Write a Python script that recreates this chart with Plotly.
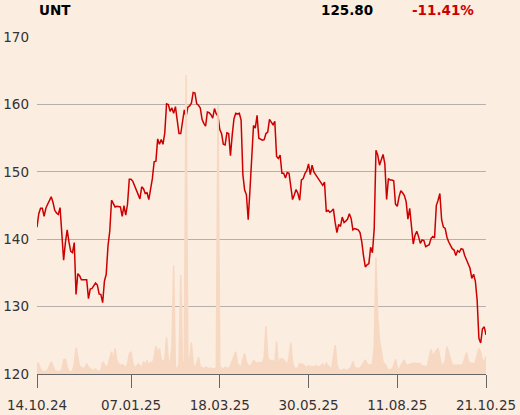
import plotly.graph_objects as go

ticker = "UNT"
last_price = "125.80"
change = "-11.41%"

tick_idx = [0, 53, 103, 153, 203, 253]
tick_labels = ["14.10.24", "07.01.25", "18.03.25", "30.05.25", "11.08.25", "21.10.25"]
y_ticks = [120, 130, 140, 150, 160, 170]

price = [
    141.8, 143.8, 144.6, 144.6, 143.4, 144.6, 145.2, 145.8, 146.3, 145.5,
    144.3, 143.9, 143.7, 144.7, 140.5, 136.9, 139.5, 141.4, 139.6, 138.2,
    138.0, 139.5, 131.8, 134.9, 134.6, 134.0, 134.0, 134.0, 134.0, 131.2,
    132.6, 132.7, 133.1, 133.5, 133.2, 131.9, 131.8, 130.6, 133.8, 134.8,
    139.0, 141.2, 145.8, 145.2, 144.8, 144.9, 144.9, 144.8, 143.4, 145.0,
    143.6, 145.2, 148.9, 148.9, 148.6, 148.0, 147.3, 146.6, 146.0, 147.8,
    147.5, 146.8, 146.9, 145.9, 147.6, 149.0, 151.5, 151.6, 154.9, 154.1,
    154.8, 154.1, 155.8, 160.1, 160.0, 159.0, 159.5, 158.7, 159.7, 157.6,
    155.7, 155.7, 157.6, 159.2, 158.2, 159.6, 159.8, 160.2, 161.8, 161.7,
    160.1, 159.9, 159.5, 157.8, 157.2, 156.8, 158.9, 158.8, 158.5, 158.0,
    159.4, 158.6, 158.3, 156.3, 155.7, 154.1, 154.0, 155.8, 155.7, 152.4,
    155.5, 157.9, 158.7, 158.6, 158.7, 157.7, 149.6, 147.3, 146.6, 142.9,
    147.3, 151.3, 156.9, 156.5, 158.4, 155.0, 154.8, 154.7, 154.8, 155.7,
    155.9, 157.8, 157.4, 157.0, 157.5, 152.3, 152.0, 152.5, 149.8, 149.8,
    149.1, 149.9, 149.8, 147.8, 145.9, 146.6, 147.4, 146.8, 145.8, 148.8,
    149.0, 149.8, 150.2, 151.2, 149.6, 151.0, 150.0, 149.6, 149.2, 148.8,
    148.6, 148.0, 148.5, 144.1, 144.3, 144.0, 144.2, 144.5, 142.5, 141.0,
    142.2, 141.9, 143.3, 142.5, 142.7, 143.0, 143.8, 143.1, 141.4, 141.6,
    141.5, 141.4, 141.0, 139.6, 137.5, 135.9, 136.2, 136.4, 138.8, 138.0,
    141.5, 153.2, 152.5, 151.0, 151.8, 152.6, 151.2, 145.9, 149.0, 148.8,
    148.8, 148.7, 145.2, 144.9, 146.3, 147.2, 146.9, 146.5, 145.6, 143.0,
    144.6, 141.6, 139.3, 140.6, 141.2, 140.4, 139.4, 139.9, 139.8, 138.9,
    139.0, 139.2, 140.1, 140.4, 140.2, 145.0, 145.8, 146.8, 142.9, 141.8,
    141.6, 140.3, 139.6, 139.1, 138.6, 138.4, 137.6, 138.3, 138.1, 138.6,
    138.5, 137.6, 137.0, 136.5, 135.7, 134.2, 134.8, 133.8, 131.0, 125.3,
    124.6, 126.7, 127.0, 125.8,
]

volume = [
    3.4, 3.0, 1.5, 0.8, 0.7, 0.8, 1.2, 2.5, 3.6, 2.5,
    1.0, 0.8, 0.7, 0.9, 1.2, 4.2, 4.4, 2.0, 0.8, 0.7,
    0.8, 3.0, 7.8, 5.0, 2.2, 2.0, 1.5, 2.0, 3.0, 2.0,
    1.5, 1.2, 1.0, 1.5, 0.8, 0.8, 1.0, 3.7, 3.0, 2.0,
    2.5, 5.0, 6.6, 4.0, 7.6, 4.0, 3.0, 2.5, 2.8, 2.4,
    1.8, 3.0, 6.0, 6.6, 3.0, 2.0, 2.2, 3.0, 2.5, 2.0,
    3.5, 3.0, 4.0, 2.5, 3.5, 3.0, 5.0, 8.3, 6.0, 7.6,
    4.0, 4.0, 4.0, 10.9, 4.0, 3.0, 8.0, 32.3, 2.0, 1.5,
    3.0, 29.4, 2.0, 4.0, 88.7, 5.0, 4.0, 9.3, 3.0, 2.0,
    3.0, 5.0, 2.0, 2.0, 1.5, 2.0, 1.8, 1.5, 1.8, 1.5,
    1.5, 1.8, 79.8, 2.0, 1.8, 1.5, 2.0, 1.8, 1.5, 2.5,
    3.7, 5.0, 6.6, 3.0, 2.5, 2.0, 4.5, 6.1, 3.5, 2.5,
    2.5, 2.8, 4.0, 3.6, 3.0, 3.5, 3.2, 3.5, 5.0, 14.2,
    5.0, 4.0, 4.0, 4.0, 3.0, 9.6, 2.5, 4.4, 4.5, 4.2,
    3.5, 2.5, 5.0, 9.3, 3.5, 1.7, 1.7, 1.8, 3.0, 3.0,
    2.8, 2.2, 2.0, 2.5, 2.0, 2.3, 2.0, 2.5, 2.2, 2.0,
    2.5, 3.0, 2.0, 3.2, 2.5, 2.0, 1.5, 5.0, 8.6, 3.0,
    1.2, 1.2, 1.0, 1.5, 1.0, 1.2, 1.5, 2.0, 3.7, 2.0,
    1.7, 1.7, 1.8, 2.5, 3.5, 4.2, 3.0, 2.7, 2.7, 3.0,
    8.0, 34.6, 17.0, 10.0, 7.0, 3.5, 3.0, 2.0, 1.2, 1.2,
    1.5, 2.5, 4.4, 2.0, 1.2, 2.5, 3.5, 4.2, 2.5, 2.7,
    2.7, 3.0, 3.2, 3.2, 3.0, 3.2, 3.0, 2.2, 2.5, 2.0,
    2.5, 5.0, 7.3, 5.5, 6.0, 7.0, 7.6, 5.0, 2.7, 2.7,
    4.0, 8.1, 6.0, 4.0, 2.7, 2.7, 2.5, 2.7, 2.7, 2.5,
    3.0, 5.0, 6.3, 4.0, 3.2, 3.2, 3.0, 3.5, 6.0, 7.6,
    6.5, 4.0, 3.5, 5.3,
]

n = min(len(price), len(volume))
idx = list(range(n))

BG = "#fcede1"
FONT = "DejaVu Sans"

fig = go.Figure()
fig.add_trace(go.Scatter(
    x=idx, y=volume[:n], yaxis="y2", mode="lines",
    line=dict(width=1.5, color="#f7d9c3"), fill="tozeroy",
    fillcolor="#f7d9c3", hoverinfo="skip", showlegend=False,
))
fig.add_trace(go.Scatter(
    x=idx, y=price[:n], mode="lines",
    line=dict(width=1.5, color="#cc0000"), showlegend=False,
))

fig.update_layout(
    template="none",
    width=520, height=415,
    margin=dict(l=37, r=34, t=37, b=41, autoexpand=False),
    paper_bgcolor=BG, plot_bgcolor=BG,
    font=dict(family=FONT, size=13.5, color="#333333"),
    xaxis=dict(
        range=[0, n - 1], tickvals=tick_idx, automargin=False,
        ticktext=tick_labels, showgrid=False, zeroline=False,
        showline=True, linecolor="#666666", linewidth=1,
        ticks="outside", ticklen=13, tickcolor="#666666", tickwidth=1,
        ticklabelstandoff=6,
    ),
    yaxis=dict(
        range=[120, 170.03], tickvals=y_ticks, showgrid=True, automargin=False,
        gridcolor="#b5b0ab", gridwidth=1, zeroline=False, ticks="",
        showline=False, ticklabelstandoff=7,
    ),
    yaxis2=dict(
        range=[0, 100], overlaying="y", showgrid=False, zeroline=False,
        showticklabels=False, visible=False, automargin=False,
    ),
    annotations=[
        dict(text="<b>%s</b>" % ticker, xref="paper", yref="paper", x=0, y=1.08,
             xanchor="left", yanchor="middle", showarrow=False,
             font=dict(family=FONT, size=13.5, color="#000000")),
        dict(text="<b>%s</b>" % last_price, xref="paper", yref="paper", x=0.7528, y=1.08,
             xanchor="right", yanchor="middle", showarrow=False,
             font=dict(family=FONT, size=13.5, color="#000000")),
        dict(text="<b>%s</b>" % change, xref="paper", yref="paper", x=0.8307, y=1.08,
             xanchor="left", yanchor="middle", showarrow=False,
             font=dict(family=FONT, size=13.5, color="#cc0000")),
    ],
)

fig.write_html(
    "out.html",
    config={"displayModeBar": False},
    post_script="document.body.style.margin='0';document.body.style.padding='0';"
                "document.body.style.background='%s';" % BG,
)
